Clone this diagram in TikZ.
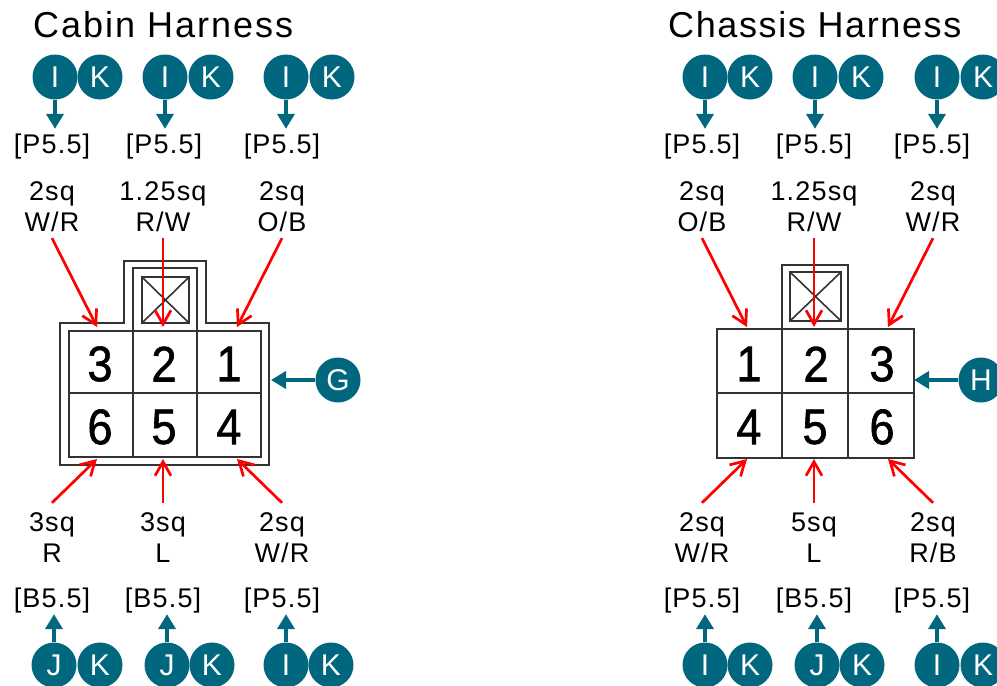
\documentclass[tikz,border=0pt]{standalone}
\usepackage{fontspec}
\setmainfont{Liberation Sans}
\newfontfamily\spaced[LetterSpace=4.4]{Liberation Sans}
\newfontfamily\spacedtitle[LetterSpace=4.5]{Liberation Sans}
\newfontfamily\spacedtitleb[LetterSpace=5.5]{Liberation Sans}
\newfontfamily\pinfont[FakeStretch=0.9,FakeBold=1.2]{Liberation Sans}
\usetikzlibrary{arrows.meta}
\definecolor{teal1}{HTML}{00677F}
\definecolor{wire}{HTML}{333333}
\tikzset{
  badge/.style={circle,fill=teal1,text=white,inner sep=0pt,minimum size=45pt,font=\fontsize{30}{30}\selectfont},
  titletext/.style={inner sep=0pt,font=\spacedtitle\fontsize{36}{36}\selectfont,anchor=west},
  gauge/.style={inner sep=0pt,text centered,align=center,font=\spaced\fontsize{27}{31}\selectfont},
  tlabel/.style={gauge,minimum height=62pt},
  blabel/.style={gauge,minimum height=69pt},
  sizelab/.style={gauge,minimum height=35pt},
  sizelabb/.style={gauge,minimum height=27pt},
  pin/.style={inner sep=0pt,font=\pinfont\fontsize{50}{50}\selectfont},
  flow/.style={-{Triangle[width=17pt,length=15pt]},teal1,line width=4.5pt},
  feed/.style={-{Straight Barb[length=14pt,width=16pt]},red,line width=2.7pt},
  housing/.style={draw=wire,line width=2.4pt,line join=miter},
  cell/.style={draw=wire,line width=2.4pt},
  cross/.style={draw=wire,line width=1.6pt},
}
\begin{document}
\begin{tikzpicture}[x=1pt,y=-1pt]
\useasboundingbox[fill=white] (0,0) rectangle (997,686);

% titles
\node[titletext,font=\spacedtitleb\fontsize{36}{36}\selectfont] (tcab) at (33,25) {Cabin Harness};
\node[titletext] (tcha) at (668,25) {Chassis Harness};

% ---------- left connector ----------
\draw[housing] (60,323) -- (124,323) -- (124,261) -- (206,261) -- (206,323) -- (269,323) -- (269,465) -- (60,465) -- cycle;
\draw[cell] (69,331) rectangle (261,457);
\draw[cell] (133,331) -- (133,268) -- (197,268) -- (197,331);
\draw[cell] (133,331) -- (133,457) (197,331) -- (197,457) (69,393) -- (261,393);
\draw[cell] (142,277) rectangle (189,323);
\draw[cross] (142,277) -- (189,323) (189,277) -- (142,323);

\node[pin] (c3) at (100,364) {3};
\node[pin] (c2) at (164,364) {2};
\node[pin] (c1) at (229,364) {1};
\node[pin] (c6) at (100,427) {6};
\node[pin] (c5) at (164,427) {5};
\node[pin] (c4) at (229,427) {4};

% ---------- right connector ----------
\draw[cell] (717,329) rectangle (914,458);
\draw[cell] (782,329) -- (782,265) -- (848,265) -- (848,329);
\draw[cell] (782,329) -- (782,458) (848,329) -- (848,458) (717,393) -- (914,393);
\draw[cell] (790,272) rectangle (841,321);
\draw[cross] (790,272) -- (841,321) (841,272) -- (790,321);

\node[pin] (r1) at (749,364) {1};
\node[pin] (r2) at (816,364) {2};
\node[pin] (r3) at (882,364) {3};
\node[pin] (r4) at (749,427) {4};
\node[pin] (r5) at (815,427) {5};
\node[pin] (r6) at (882,427) {6};

% ---------- wire-end targets ----------
\coordinate (la) at (97,327);  \coordinate (lb) at (163,327); \coordinate (lc) at (237,327);
\coordinate (ld) at (97,459);  \coordinate (le) at (163,459); \coordinate (lf) at (237,459);
\coordinate (ra) at (747,327); \coordinate (rb) at (814,327); \coordinate (rc) at (888,327);
\coordinate (rd) at (747,459); \coordinate (re) at (814,459); \coordinate (rf) at (888,459);
\coordinate (gt) at (271,380); \coordinate (ht) at (914,380);

% ---------- top labels ----------
\node[tlabel] (t1) at (52,207) {2sq\\W/R};
\node[tlabel] (t2) at (163,207) {1.25sq\\R/W};
\node[tlabel] (t3) at (282,207) {2sq\\O/B};
\node[tlabel] (t4) at (702,207) {2sq\\O/B};
\node[tlabel] (t5) at (814,207) {1.25sq\\R/W};
\node[tlabel] (t6) at (933,207) {2sq\\W/R};

\node[sizelab] (p1) at (52,146.5) {[P5.5]};
\node[sizelab] (p2) at (164,146.5) {[P5.5]};
\node[sizelab] (p3) at (282,146.5) {[P5.5]};
\node[sizelab] (p4) at (702,146.5) {[P5.5]};
\node[sizelab] (p5) at (814,146.5) {[P5.5]};
\node[sizelab] (p6) at (932,146.5) {[P5.5]};

% ---------- bottom labels ----------
\node[blabel] (b1) at (52,537.5) {3sq\\R};
\node[blabel] (b2) at (163,537.5) {3sq\\L};
\node[blabel] (b3) at (282,537.5) {2sq\\W/R};
\node[blabel] (b4) at (702,537.5) {2sq\\W/R};
\node[blabel] (b5) at (814,537.5) {5sq\\L};
\node[blabel] (b6) at (933,537.5) {2sq\\R/B};

\node[sizelabb] (q1) at (52,600.5) {[B5.5]};
\node[sizelabb] (q2) at (163,600.5) {[B5.5]};
\node[sizelabb] (q3) at (282,600.5) {[P5.5]};
\node[sizelabb] (q4) at (702,600.5) {[P5.5]};
\node[sizelabb] (q5) at (814,600.5) {[B5.5]};
\node[sizelabb] (q6) at (932,600.5) {[P5.5]};

% ---------- badges ----------
\node[badge] (ai) at (55,77) {I};   \node[badge] (ak) at (100,77) {K};
\node[badge] (bi) at (165,77) {I};  \node[badge] (bk) at (211,77) {K};
\node[badge] (ci) at (286,77) {I};  \node[badge] (ck) at (332,77) {K};
\node[badge] (di) at (705,77) {I};  \node[badge] (dk) at (750,77) {K};
\node[badge] (ei) at (815,77) {I};  \node[badge] (ek) at (861,77) {K};
\node[badge] (fi) at (937,77) {I};  \node[badge] (fk) at (983,77) {K};

\node[badge] (gj) at (54,665) {J};  \node[badge] (gk) at (100,665) {K};
\node[badge] (hj) at (167,665) {J}; \node[badge] (hk) at (212,665) {K};
\node[badge] (ii) at (286,665) {I}; \node[badge] (ik) at (331,665) {K};
\node[badge] (ji) at (705,665) {I}; \node[badge] (jk) at (750,665) {K};
\node[badge] (kj) at (817,665) {J}; \node[badge] (kk) at (862,665) {K};
\node[badge] (li) at (937,665) {I}; \node[badge] (lk) at (983,665) {K};

\node[badge] (gg) at (338,380) {G};
\node[badge] (hh) at (981,380) {H};

% ---------- teal arrows ----------
\foreach \a/\b in {ai/p1,bi/p2,ci/p3,di/p4,ei/p5,fi/p6}
  \draw[flow] (\a.south) -- (\a.south |- \b.north);
\foreach \a/\b in {gj/q1,hj/q2,ii/q3,ji/q4,kj/q5,li/q6}
  \draw[flow] (\a.north) -- (\a.north |- \b.south);
\draw[flow] (gg.west) -- (gt);
\draw[flow] (hh.west) -- (ht);

% ---------- red arrows ----------
\foreach \a/\b in {t1/la,t2/lb,t3/lc,t4/ra,t5/rb,t6/rc}
  \draw[feed] (\a.south) -- (\b);
\foreach \a/\b in {b1/ld,b2/le,b3/lf,b4/rd,b5/re,b6/rf}
  \draw[feed] (\a.north) -- (\b);
\end{tikzpicture}
\end{document}
